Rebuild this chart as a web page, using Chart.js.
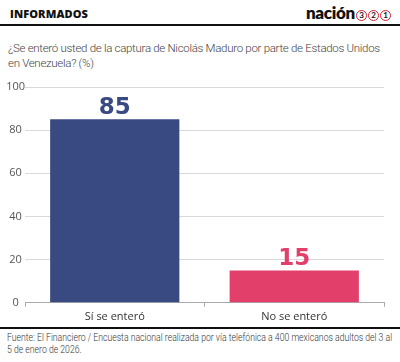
<!DOCTYPE html>
<html>
<head>
<meta charset="utf-8">
<script src="https://cdn.jsdelivr.net/npm/chart.js@4.4.1/dist/chart.umd.min.js"></script>
<style>
  body { margin: 0; background: #fff; font-family: "Open Sans", sans-serif; }
  #wrap { position: relative; width: 400px; height: 362px; overflow: hidden; }
  #head { position: absolute; left: 10px; top: 6px; font: 800 11px "Open Sans", sans-serif; color: #111; letter-spacing: 0.1px; }
  #logo { position: absolute; right: 9px; top: 2px; font: 800 17px Lato, sans-serif; color: #111; letter-spacing: -0.3px; }
  #logo span.c { display: inline-block; width: 9px; height: 9px; border: 1.5px solid #d32030; border-radius: 50%; font: 700 8px Lato, sans-serif; line-height: 9px; text-align: center; color: #111; margin-left: 1px; vertical-align: 1px; letter-spacing: 0; }
  .rule { position: absolute; left: 0; width: 400px; height: 2px; background: #111; }
  #sub { position: absolute; left: 8px; top: 41px; font: 300 11.5px Roboto, sans-serif; color: #444; line-height: 15px; white-space: nowrap; letter-spacing: -0.3px; }
  #foot { position: absolute; left: 7px; top: 332px; font: 300 10px Roboto, sans-serif; color: #333; line-height: 12px; white-space: nowrap; transform-origin: 0 0; }
  #box { position: absolute; left: 0; top: 76px; width: 400px; height: 250px; }
</style>
</head>
<body>
<div id="wrap">
  <div id="head">INFORMADOS</div>
  <div id="logo">nación<span class="c">3</span><span class="c">2</span><span class="c">1</span></div>
  <div class="rule" style="top:24px"></div>
  <div id="sub">¿Se enteró usted de la captura de Nicolás Maduro por parte de Estados Unidos<br>en Venezuela? (%)</div>
  <div id="box"><canvas id="c" width="400" height="250"></canvas></div>
  <div class="rule" style="top:327px"></div>
  <div id="foot">Fuente: El Financiero / Encuesta nacional realizada por vía telefónica a 400 mexicanos adultos del 3 al<br>5 de enero de 2026.</div>
</div>
<script>
const categories = ["Sí se enteró", "No se enteró"];
const values = [85, 15];
const barColors = ["#394a83", "#e2406a"];
const yTicks = [0, 20, 40, 60, 80, 100];

// squeeze the source note to the width it has in the original
const foot = document.getElementById("foot");
foot.style.transform = "scaleX(" + (385 / foot.offsetWidth) + ")";

// numbers over the bars
const valueLabels = {
  id: "valueLabels",
  afterDatasetsDraw(chart) {
    const ctx = chart.ctx;
    const meta = chart.getDatasetMeta(0);
    ctx.save();
    ctx.font = "bold 23px 'DejaVu Sans', sans-serif";
    ctx.textAlign = "center";
    ctx.textBaseline = "alphabetic";
    meta.data.forEach((bar, i) => {
      ctx.fillStyle = barColors[i];
      ctx.fillText(values[i], bar.x, bar.y - 5);
    });
    ctx.restore();
  }
};

new Chart(document.getElementById("c"), {
  type: "bar",
  data: {
    labels: categories,
    datasets: [{
      data: values,
      backgroundColor: barColors,
      borderWidth: 0,
      barPercentage: 0.72,
      categoryPercentage: 1
    }]
  },
  options: {
    responsive: false,
    animation: false,
    layout: { padding: { top: 11, right: 16, left: 0, bottom: 0 } },
    plugins: { legend: { display: false }, tooltip: { enabled: false } },
    scales: {
      y: {
        min: 0, max: 100,
        afterBuildTicks(axis) { axis.ticks = yTicks.map(v => ({ value: v })); },
        afterFit(axis) { axis.width = 25; },
        border: { display: false },
        grid: { color: "#d9d9d9", lineWidth: 1, drawTicks: false },
        ticks: { color: "#555", font: { family: "Open Sans", size: 11 }, padding: 0, crossAlign: "center" }
      },
      x: {
        border: { display: true, color: "#aaa", width: 1 },
        grid: { drawOnChartArea: false, drawTicks: true, tickLength: 4, color: "#aaa", offset: true },
        ticks: { color: "#333", font: { family: "Open Sans", size: 11 }, padding: 3 }
      }
    }
  },
  plugins: [valueLabels]
});
</script>
</body>
</html>
